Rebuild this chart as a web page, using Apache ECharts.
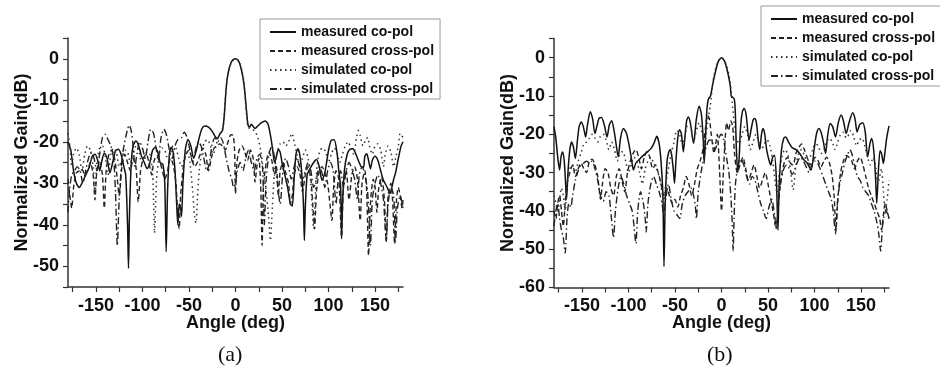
<!DOCTYPE html>
<html>
<head>
    <meta charset="UTF-8">
    <title>Radiation patterns</title>
    <script src="https://cdn.jsdelivr.net/npm/echarts@6/dist/echarts.min.js"></script>
    <style>
        html, body { margin: 0; padding: 0; background: #fff; }
        #chart { width: 940px; height: 377px; }
    </style>
</head>
<body>
    <div id="chart"></div>
    <script>
        // series names (shared by both panels)
        var seriesNames = ['measured co-pol', 'measured cross-pol', 'simulated co-pol', 'simulated cross-pol'];

        // tick / label values
        var xTicks = [-175, -150, -125, -100, -75, -50, -25, 0, 25, 50, 75, 100, 125, 150, 175];
        var xLabels = [-150, -100, -50, 0, 50, 100, 150];
        var aYTicks = [-55, -50, -45, -40, -35, -30, -25, -20, -15, -10, -5, 0, 5];
        var aYLabels = [-50, -40, -30, -20, -10, 0];
        var bYTicks = [-60, -55, -50, -45, -40, -35, -30, -25, -20, -15, -10, -5, 0, 5];
        var bYLabels = [-60, -50, -40, -30, -20, -10, 0];

        // panel (a) : [angle, dB]
        var aMeasCo = [[-180,-20],[-177,-22],[-174,-27],[-171,-30],[-168,-31],[-165,-30],[-161,-28],[-157,-26],[-154,-23.5],[-151,-23],[-148,-24.5],[-146,-27],[-144,-25],[-141,-22.7],[-138,-24],[-135,-27.5],[-132,-25],[-129,-22.2],[-126,-21.8],[-123,-23],[-120,-26],[-118,-28],[-116,-40],[-115,-50.5],[-114,-38],[-112,-25],[-110,-21],[-107,-19.8],[-104,-21],[-101,-23.5],[-98,-25],[-95,-26.5],[-92,-25],[-89,-22],[-86,-21.3],[-83,-23],[-81,-25],[-78,-25.5],[-76,-30],[-74.5,-46.5],[-73,-32],[-71,-23],[-69,-21.3],[-67,-22.5],[-65,-27],[-63,-36],[-62,-40],[-60.5,-35],[-59,-36],[-58,-38],[-56.5,-30],[-54,-22],[-51,-19.5],[-48,-21],[-45,-24],[-42,-22],[-39,-19],[-36,-16.8],[-33,-16.2],[-29,-16.5],[-25,-17.5],[-22,-18.7],[-19.5,-19.3],[-17,-18.2],[-14,-17.3],[-12,-13.5],[-10,-7],[-8,-3.5],[-5,-1],[-2.5,-0.2],[0,0],[2.5,-0.3],[5,-1.5],[8,-4.5],[10,-8],[12,-13],[13.5,-16],[15,-16.5],[17,-15.8],[19,-16.3],[21,-16.8],[24,-16.2],[28,-15.4],[32,-15],[35,-15.8],[38,-19],[40,-22],[42,-25],[44,-23.5],[46,-21.8],[48,-22.5],[50,-25],[53,-28],[56,-31],[59,-35],[61,-35.5],[63,-29],[65,-23],[67,-21.7],[69,-23],[71,-27],[73,-35],[74,-43.8],[75,-36],[77,-28],[80,-26.5],[84,-25],[87,-24.3],[90,-26],[93,-29.3],[96,-27.5],[100,-22],[103,-19.6],[106,-19.5],[109,-22.5],[111,-27],[113,-31],[114,-43.4],[115,-35],[117,-27],[120,-23],[123,-21.8],[126,-21.7],[129,-22.8],[132,-24.5],[135,-26],[137.5,-26.2],[139,-23.5],[141,-22.9],[143,-24.5],[145,-26.5],[147,-24.5],[150,-23.5],[153,-24.5],[156,-27],[159,-29.3],[163,-31],[166,-32.5],[168,-31],[170,-29],[172,-27.5],[175,-24],[178,-21],[180,-20]];
        var aMeasCross = [[-180,-29],[-178,-33],[-176,-36],[-174,-31],[-171,-27.5],[-168,-27],[-165,-26.5],[-162,-28],[-159,-27],[-156,-25],[-153,-28],[-151,-34],[-149,-27],[-146,-25],[-143,-28],[-141,-36],[-139,-27],[-136,-23],[-133,-22],[-130,-24],[-127,-29],[-125,-33],[-122,-26],[-119,-23],[-116,-25],[-113,-27],[-110,-24],[-107,-26],[-104.5,-34.5],[-102,-27],[-99,-24],[-96,-23],[-93,-25],[-90,-28],[-88,-25],[-85,-23.5],[-82,-24.5],[-79,-26.5],[-76,-29],[-73,-27],[-70,-24],[-67,-25.5],[-64,-30],[-62,-38],[-60.5,-41],[-59,-33],[-56,-26],[-53,-23],[-50,-22],[-47,-24],[-44,-26],[-41,-25],[-38,-23],[-35,-21.5],[-32,-23],[-29,-27],[-26,-24],[-23,-21.5],[-20,-21],[-17,-20.5],[-14,-21],[-11,-22],[-8,-20],[-5,-18.3],[-2.5,-18.5],[-1,-22],[0,-32.5],[1.5,-25],[4,-22],[7,-21],[10,-22.5],[13,-24.5],[16,-22],[19,-24],[21,-29.7],[23,-26],[25,-24],[27,-30],[28.6,-45],[30,-31],[33,-25],[36,-22.5],[39,-24.5],[42,-28],[44,-26],[46,-33],[48,-27],[51,-25],[54,-27.5],[57,-30],[59,-35],[61,-33],[63,-28],[66,-26],[69,-27.5],[72,-32],[75,-28],[78,-26],[81,-29],[83,-35],[85,-41],[87,-32],[90,-27],[93,-26],[96,-27.5],[99,-30],[101.5,-35],[103.6,-39],[105.5,-31],[108,-27],[111,-29],[114,-43],[116,-31],[119,-27],[122,-34],[125,-28],[128,-26],[131,-29],[134,-39],[136,-30],[139,-27],[141,-32],[143,-47.4],[145,-35],[148,-29],[150,-31],[152,-37],[154,-31],[157,-28.5],[160,-34],[162,-44],[164,-33],[167,-30],[169,-35],[171,-44.6],[173,-34],[175,-31],[177,-33],[179,-36],[180,-34]];
        var aSimCo = [[-180,-18],[-178,-21],[-176,-26],[-174,-23],[-171,-21.5],[-168,-23],[-165,-27],[-162,-23],[-159,-21],[-156,-22],[-153,-26],[-151,-33],[-149,-25],[-146,-21.5],[-143,-21],[-140,-23.5],[-137,-28],[-134,-23],[-131,-21.5],[-128,-22.5],[-125,-26],[-122,-24],[-119,-22],[-116,-22.5],[-113,-25],[-110,-23],[-107,-21],[-104,-22],[-101,-25],[-98,-24],[-95,-22.5],[-92,-23],[-89,-28],[-87,-42],[-85,-30],[-82,-23],[-79,-21.5],[-76,-22],[-73,-24],[-70,-23],[-67,-21],[-64,-21.5],[-61,-24],[-58,-26],[-55,-24],[-52,-22.5],[-49,-25],[-46,-32],[-44,-38],[-42.5,-39.6],[-41,-34],[-39,-27],[-36,-22],[-33,-20],[-30,-19.5],[-27,-21],[-24,-23],[-21,-21],[-18,-18.5],[-15,-17.5],[-13,-16],[-11,-10],[-9,-5],[-7,-2.8],[-5,-1.2],[-2.5,-0.3],[0,0],[2.5,-0.3],[5,-1.3],[7,-3],[9,-5.5],[11,-11],[13,-16],[15,-16.8],[18,-17],[21,-17.5],[24,-19],[27,-22],[30,-27],[33,-32],[35.5,-38],[37.5,-43.8],[39.5,-36],[42,-27],[45,-22.5],[48,-20.5],[51,-20],[54,-21],[57,-20],[60.7,-18],[63,-20],[66,-23],[69,-26],[72,-24],[75,-22],[78,-24],[81,-30],[84,-41],[86,-32],[88,-25],[91,-22],[94,-21.5],[97,-22.5],[100,-25],[103,-23],[106,-21.5],[109,-22.5],[112,-25],[115,-23],[118,-21],[121,-20],[124,-21.5],[127,-23],[130,-19],[132,-17.3],[134,-18.5],[137,-21],[140,-19.5],[142,-19],[144,-21],[147,-23],[150,-21],[153,-20.5],[156,-22],[159,-26],[161,-23],[164,-21],[167,-22.5],[170,-26],[172,-24],[175,-21],[177,-18],[180,-19]];
        var aSimCross = [[-180,-37],[-178,-31],[-176,-28],[-173,-27],[-170,-26],[-167,-27],[-164,-30],[-161,-27],[-158,-24],[-155,-22.5],[-152,-24],[-149,-27],[-146,-23],[-143,-19],[-140,-18.2],[-137,-19.5],[-134,-21],[-131,-24],[-129,-32],[-127,-45],[-125,-34],[-122,-24],[-119,-20],[-116,-17],[-114,-16],[-112,-17.5],[-110,-21],[-108,-26],[-106,-23],[-103,-20],[-100,-21.5],[-97,-24],[-94,-20],[-91,-17],[-88,-18],[-85,-22],[-83,-24],[-80,-19],[-77,-17],[-74,-18.5],[-71,-22],[-68,-24],[-65,-21],[-62,-19.5],[-58,-19],[-55,-17.7],[-52,-19],[-49,-22],[-46,-25],[-43,-22],[-40,-20],[-37,-21],[-34,-24],[-31,-27],[-28,-25],[-25,-20.5],[-22,-19],[-19,-20],[-16,-19],[-13,-20.5],[-10,-24],[-7,-27],[-4,-29],[-2,-31],[0,-30],[2,-27],[5,-25],[8,-27],[11,-24],[14,-22],[17,-25],[20,-27],[23,-24],[26,-23],[29,-26],[31,-40],[33,-29],[36,-23],[39,-21],[42,-24],[45,-30],[48,-35],[51,-27],[54,-24],[57,-26],[60,-29],[63,-26],[66,-24],[69,-26],[72,-29],[75,-27],[78,-25],[81,-27],[84,-31],[87,-29],[90,-26],[93,-27.5],[96,-31],[99,-27],[102,-25],[105,-27],[108,-35],[110,-30],[113,-27],[116,-31],[119,-27],[122,-25],[125,-26.5],[128,-29],[131,-34],[133,-28],[136,-26],[139,-28],[142,-32],[145,-45],[147,-34],[150,-30],[153,-28],[156,-30],[159,-34],[162,-44],[164,-35],[167,-31],[170,-33],[172,-44],[174,-36],[177,-33],[180,-36]];

        // panel (b) : [angle, dB]
        var bMeasCo = [[-180,-18],[-178,-21],[-176,-26],[-174,-29.3],[-172.5,-26],[-170.7,-24.6],[-169,-27],[-167.5,-33],[-166.5,-37],[-165,-30],[-163,-24],[-161,-22],[-159,-23.5],[-157,-26.3],[-155,-22],[-153,-18],[-150.7,-16.8],[-148.5,-18],[-146,-20.7],[-144,-17.5],[-141,-14.1],[-138.5,-16],[-136,-19.8],[-134,-18],[-131.5,-15.8],[-129,-15.6],[-126,-17.5],[-123,-20.7],[-120.5,-17.5],[-118,-16.5],[-115.5,-19],[-113,-23],[-111,-25.9],[-108.5,-21],[-105.5,-18.5],[-102.5,-19.5],[-100,-22],[-97,-26],[-94.6,-29.3],[-92,-27.5],[-88,-26.5],[-84,-25.5],[-79,-24.5],[-75,-23.5],[-72,-22],[-69.6,-20.5],[-67,-22.5],[-65,-27],[-63,-36],[-61.8,-54.5],[-60.5,-38],[-58.5,-27],[-56.5,-24.5],[-55,-24],[-53.5,-25.5],[-51.5,-30],[-50.5,-32.8],[-49,-27],[-47,-21],[-45,-18.8],[-43,-20],[-41,-24.6],[-39,-20],[-37.5,-16.5],[-35.7,-15.5],[-33.5,-17],[-30,-22.4],[-27,-16],[-24,-12.7],[-21.5,-15],[-19.5,-22],[-18.6,-27.6],[-17,-20],[-15.5,-13],[-14,-10.8],[-11.8,-10],[-9.5,-7],[-7,-4.2],[-3.6,-1.1],[0,0],[3.6,-1.1],[7,-4.2],[9.5,-7.5],[10.5,-10],[13.6,-10.7],[14.8,-14],[16,-24],[17.5,-30],[19,-26],[20.5,-18],[22.5,-14],[24.3,-13.3],[26.5,-15],[29.6,-21.5],[32,-18.5],[34,-16.3],[35.7,-15.9],[37.5,-17],[41,-24],[43,-20],[44.6,-18.5],[46.5,-20],[48.5,-24],[51,-26.7],[53,-28],[55,-26],[57,-25.5],[59,-32],[60.7,-45],[62,-33],[64.5,-24],[67,-21],[69,-20.7],[72,-22],[76,-23.5],[80,-24],[84,-25],[88,-26.5],[92,-27.5],[96.4,-29.3],[99.5,-24],[102,-20],[104.6,-18.5],[107,-19.5],[109.5,-22],[111.8,-25],[114,-20.5],[116.8,-17.2],[119.5,-18],[122.5,-20.7],[125.5,-17],[128.6,-15],[131,-16.5],[134,-19.8],[137,-17],[141,-14.4],[143.5,-16],[145.7,-19.4],[148.5,-17.5],[151.8,-17],[154.5,-19.5],[157,-25.9],[159.5,-22.5],[161.4,-21.1],[163.5,-24],[165.5,-31],[166.8,-38],[168.5,-30],[170.4,-24.3],[172,-25],[173.9,-27.6],[175.5,-25],[177.5,-21],[180,-17.8]];
        var bMeasCross = [[-180,-40],[-178,-42],[-176,-38],[-174,-36],[-172,-40],[-170,-44],[-168,-38],[-166,-33],[-163,-30],[-160,-28],[-157,-31],[-154,-29],[-151,-27.5],[-148,-29],[-145,-30],[-142,-27],[-139,-26.5],[-136,-28],[-133,-31],[-130,-37],[-128,-33],[-125,-29],[-122,-30],[-119,-34],[-116,-36],[-113,-31],[-110,-29],[-107,-32],[-104,-35],[-101,-30],[-98,-27],[-95,-25],[-92,-24],[-89,-26],[-86,-29],[-83,-26],[-80,-24.5],[-77,-26],[-74,-29],[-71,-28],[-68,-30],[-65,-33],[-62,-36],[-59,-34],[-56,-36],[-53,-38],[-50,-37],[-47,-39],[-44,-36],[-41,-34],[-38,-31],[-35,-33],[-32,-36],[-29,-33],[-26,-29],[-23,-27],[-20,-24],[-17,-18],[-15,-15],[-13,-16],[-11,-20],[-8,-25],[-6,-22],[-4.5,-20],[-2,-30],[0,-40],[2,-30],[4,-21],[5.5,-17],[7.5,-19],[10,-16.5],[12,-18],[14,-25],[17,-30],[20,-28],[23,-26],[26,-29],[29,-32],[32,-30],[35,-28],[38,-31],[41,-34],[44,-32],[47,-30],[50,-33],[53,-37],[56,-41],[58,-44],[60,-42],[62,-36],[65,-30],[68,-27],[71,-26],[74,-27.5],[77,-28],[80,-25],[83,-23.5],[86,-22.5],[89,-24],[92,-26],[95,-28],[98,-27],[101,-26],[104,-27],[107,-28.5],[110,-27],[113,-26],[116,-27.5],[119,-31],[121,-36],[123,-45],[125,-37],[128,-30],[131,-27],[134,-25.5],[137,-26],[140,-27],[143,-29],[146,-27],[149,-26],[152,-28],[155,-31],[158,-34],[161,-36],[164,-38],[167,-40],[170,-42],[172,-45],[174,-41],[176,-38],[178,-40],[180,-42]];
        var bSimCo = [[-180,-36],[-178,-38],[-176,-40],[-174,-37],[-172,-34],[-170,-36],[-168,-40],[-166,-33],[-163,-29],[-160,-28],[-157,-30],[-154,-27],[-151,-25],[-148,-22.5],[-145,-22],[-142,-21],[-139,-20],[-136,-21],[-133,-22],[-130,-20.5],[-127,-20],[-124,-21.5],[-121,-24],[-118,-22],[-115,-24],[-112,-27],[-109,-25],[-106,-24.5],[-103,-27],[-100,-30],[-97,-28],[-94,-26],[-91,-27],[-88,-30],[-85,-33],[-82,-29],[-79,-27],[-76,-26],[-73,-27.5],[-70,-29],[-67,-31],[-64,-35],[-62,-38],[-60,-33],[-57,-29],[-54,-25],[-51,-22],[-48,-19],[-45,-20],[-42,-23],[-39,-20],[-36,-17.5],[-33,-18],[-30,-22],[-27,-19],[-24,-17],[-21,-19.5],[-18,-22],[-15,-17],[-12,-12.5],[-10,-8],[-8,-4.5],[-6,-2.5],[-3,-0.7],[0,0],[3,-0.7],[6,-2.5],[8,-4.5],[10,-8],[12,-13],[14,-18],[16,-21],[19,-22.5],[22,-20],[25,-18],[28,-20],[31,-24],[34,-22],[37,-20],[40,-22],[43,-24],[46,-22.5],[49,-21.5],[52,-23],[55,-27],[58,-33],[60,-36],[62,-30],[65,-26],[68,-24],[71,-25],[74,-29],[77,-34.5],[80,-28],[83,-25],[86,-24],[89,-25.5],[92,-27],[95,-26],[98,-24],[101,-22.5],[104,-23],[107,-25],[110,-24],[113,-22],[116,-21],[119,-22],[122,-24],[125,-22],[128,-20],[131,-19.5],[134,-21],[137,-20],[139,-19],[142,-20.5],[145,-23],[148,-21.5],[151,-21],[154,-23],[157,-26],[160,-28],[163,-26],[166,-29],[168,-33],[170,-31],[172,-29],[174,-35],[176,-40],[178,-37],[180,-32]];
        var bSimCross = [[-180,-44],[-178,-40],[-176,-38],[-174,-42],[-172,-45],[-170,-47],[-168,-51],[-166,-42],[-164,-38],[-162,-39],[-160,-36],[-157,-32],[-154,-29.5],[-151,-28],[-148,-27.5],[-145,-27],[-142,-27.5],[-139,-27],[-136,-29],[-133,-32],[-130,-36],[-127,-37.5],[-124,-35],[-121,-36],[-119,-40],[-116,-47],[-114,-40],[-111,-34],[-108,-31],[-105,-33],[-102,-36],[-99,-38],[-96,-40],[-94,-44],[-92,-48.5],[-90,-40],[-87,-35],[-84,-38],[-82,-42],[-81,-45.5],[-79,-38],[-76,-33],[-73,-31],[-70,-33],[-67,-35],[-64,-38],[-62,-41],[-60,-37],[-57,-33],[-54,-37],[-51,-40],[-48,-41],[-45,-42],[-42,-38],[-39,-36],[-36,-35],[-33,-34],[-30,-36],[-28,-39],[-27,-42],[-25,-35],[-22,-30],[-19,-26],[-16,-23],[-13,-21.5],[-10,-22],[-7,-24],[-4,-22],[-2,-20.5],[0,-20],[2,-21],[4,-24],[6,-27],[8,-30],[10,-36],[11.5,-43],[12.5,-50.5],[13.5,-42],[15,-33],[18,-28],[21,-26.5],[24,-28],[27,-31],[30,-33],[33,-31],[36,-32],[39,-35],[42,-38],[45,-40],[48,-42],[51,-39],[54,-37],[57,-41],[59,-45],[61,-38],[64,-32],[67,-29],[70,-28],[73,-29],[76,-30.5],[79,-29],[82,-27],[85,-26],[88,-27],[91,-28.5],[94,-30],[97,-28],[100,-27],[103,-27.5],[106,-29],[109,-31],[112,-33],[115,-35],[118,-37],[120,-40],[122.5,-46],[124.5,-38],[127,-33],[130,-30],[133,-27],[136,-25],[138,-24],[140,-25],[143,-28],[146,-31],[149,-32],[152,-34],[155,-35],[158,-36],[161,-38],[164,-40],[167,-43],[169,-46],[171,-50.5],[173,-44],[175,-41],[177,-40],[180,-42]];

        var FONT = '"Liberation Sans", Arial, sans-serif';
        var AXIS_COLOR = '#333';
        var lineStyles = [
            { color: '#111', width: 1.5, type: 'solid' },
            { color: '#222', width: 1.4, type: [5, 3] },
            { color: '#333', width: 1.5, type: [1.5, 3.5] },
            { color: '#222', width: 1.4, type: [7, 3, 1.5, 3] }
        ];

        function makeSeries(idx, data, k) {
            return {
                name: seriesNames[k],
                type: 'line',
                xAxisIndex: idx,
                yAxisIndex: idx,
                data: data,
                symbol: 'none',
                smooth: 0.25,
                animation: false,
                itemStyle: { color: lineStyles[k].color },
                lineStyle: lineStyles[k]
            };
        }

        function makeXAxis(idx) {
            return {
                gridIndex: idx,
                type: 'value',
                min: -180,
                max: 180,
                name: 'Angle (deg)',
                nameLocation: 'middle',
                nameGap: 27,
                nameMoveOverlap: false,
                nameTextStyle: { fontFamily: FONT, fontWeight: 'bold', fontSize: 18, color: '#111' },
                axisLine: { show: true, onZero: false, lineStyle: { color: AXIS_COLOR, width: 1.5 } },
                axisTick: { show: true, length: 5, customValues: xTicks, lineStyle: { color: AXIS_COLOR, width: 1.2 } },
                axisLabel: { customValues: xLabels, margin: 10, fontFamily: FONT, fontWeight: 'bold', fontSize: 18, color: '#111' },
                splitLine: { show: false }
            };
        }

        function makeYAxis(idx, min, ticks, labels) {
            return {
                gridIndex: idx,
                type: 'value',
                min: min,
                max: 5,
                name: 'Normalized Gain(dB)',
                nameLocation: 'middle',
                nameRotate: 90,
                nameGap: 37,
                nameMoveOverlap: false,
                nameTextStyle: { fontFamily: FONT, fontWeight: 'bold', fontSize: 18, color: '#111' },
                axisLine: { show: true, onZero: false, lineStyle: { color: AXIS_COLOR, width: 1.5 } },
                axisTick: { show: true, length: 5, customValues: ticks, lineStyle: { color: AXIS_COLOR, width: 1.2 } },
                axisLabel: { customValues: labels, margin: 9, fontFamily: FONT, fontWeight: 'bold', fontSize: 18, color: '#111' },
                splitLine: { show: false }
            };
        }

        function makeLegend(left, top) {
            return {
                data: seriesNames,
                orient: 'vertical',
                left: left,
                top: top,
                itemWidth: 26,
                itemHeight: 12,
                itemGap: 5,
                padding: [6, 6, 3, 9],
                borderColor: '#999',
                borderWidth: 1,
                selectedMode: false,
                itemStyle: { opacity: 0 },
                textStyle: { fontFamily: FONT, fontWeight: 'bold', fontSize: 14, color: '#111' }
            };
        }

        var chart = echarts.init(document.getElementById('chart'));
        chart.setOption({
            animation: false,
            backgroundColor: '#fff',
            grid: [
                { left: 68, top: 38, width: 335, height: 249 },
                { left: 554, top: 38.5, width: 335, height: 249 }
            ],
            xAxis: [makeXAxis(0), makeXAxis(1)],
            yAxis: [makeYAxis(0, -55, aYTicks, aYLabels), makeYAxis(1, -60, bYTicks, bYLabels)],
            legend: [makeLegend(260, 19), makeLegend(761, 6)],
            graphic: [
                { type: 'text', left: 218, top: 344, style: { text: '(a)', font: '22px "Liberation Serif", serif', fill: '#111' } },
                { type: 'text', left: 707, top: 344, style: { text: '(b)', font: '22px "Liberation Serif", serif', fill: '#111' } }
            ],
            series: [
                makeSeries(0, aMeasCo, 0), makeSeries(0, aMeasCross, 1), makeSeries(0, aSimCo, 2), makeSeries(0, aSimCross, 3),
                makeSeries(1, bMeasCo, 0), makeSeries(1, bMeasCross, 1), makeSeries(1, bSimCo, 2), makeSeries(1, bSimCross, 3)
            ]
        });
    </script>
</body>
</html>
